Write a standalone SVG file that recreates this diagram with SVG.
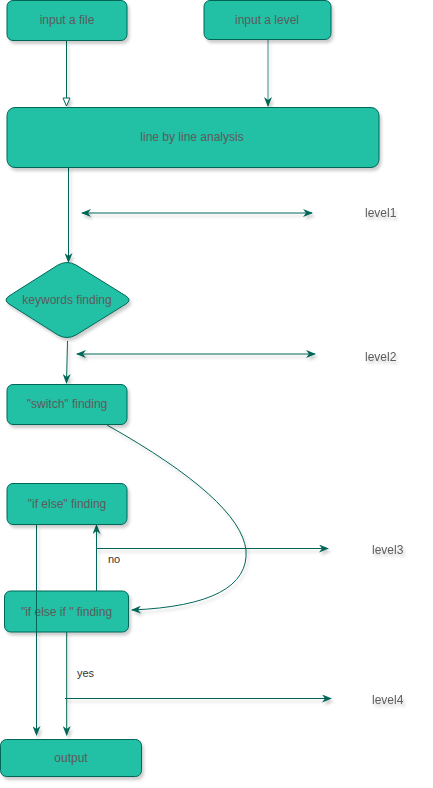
<svg xmlns="http://www.w3.org/2000/svg" width="433" height="788" viewBox="0 0 433 788">
<style>
.n{fill:#21C0A5;stroke:#006658;stroke-width:1;filter:url(#sh)}
.t{font-family:"Liberation Sans",Arial,sans-serif;font-size:12px;fill:#5C5C5C;text-anchor:middle;dominant-baseline:central}
.l{font-family:"Liberation Sans",Arial,sans-serif;font-size:12px;fill:#5C5C5C;dominant-baseline:central;filter:url(#sh2)}
.e{fill:none;stroke:#006658;stroke-width:1;filter:url(#sh2)}
.lab{font-family:"Liberation Sans",Arial,sans-serif;font-size:11px;fill:#333;dominant-baseline:central}
</style>
<defs>
<filter id="sh" x="-20%" y="-20%" width="140%" height="150%">
<feDropShadow dx="2" dy="3" stdDeviation="1.5" flood-color="#000" flood-opacity="0.2"/>
</filter>
<filter id="sh2" filterUnits="userSpaceOnUse" x="0" y="0" width="433" height="788">
<feDropShadow dx="2" dy="3" stdDeviation="1.5" flood-color="#000" flood-opacity="0.2"/>
</filter>
<marker id="a" viewBox="0 0 10 8" refX="9" refY="4" markerWidth="10" markerHeight="8" markerUnits="userSpaceOnUse" orient="auto-start-reverse">
<path d="M0,0 L10,4 L0,8 L3,4 z" fill="#006658"/>
</marker>
<marker id="h" viewBox="0 0 10 9" refX="9" refY="4.5" markerWidth="10" markerHeight="9" markerUnits="userSpaceOnUse" orient="auto">
<path d="M1,1 L9,4.5 L1,8 z" fill="#fff" stroke="#006658" stroke-width="1"/>
</marker>
</defs>
<g id="connectors">
<path class="e" d="M66.5,41 V106" marker-end="url(#h)"/>
<path class="e" d="M268,40 V106" stroke-opacity="0.75" stroke-width="1.6" marker-end="url(#a)"/>
<path class="e" d="M68.5,167 V262" marker-end="url(#a)"/>
<path class="e" d="M82,213 H312" marker-start="url(#a)" marker-end="url(#a)"/>
<path class="e" d="M67.5,341 L66.5,383" marker-end="url(#a)"/>
<path class="e" d="M77,354 H315" marker-start="url(#a)" marker-end="url(#a)"/>
<path class="e" d="M107,425 Q240,500 246,550 Q250,605 132,610" marker-end="url(#a)"/>
<path class="e" d="M96.5,591 V525" marker-end="url(#a)"/>
<path class="e" d="M96,548.5 H328" marker-end="url(#a)"/>
<path class="e" d="M36.5,525 V735" marker-end="url(#a)"/>
<path class="e" d="M66.7,632 V735" marker-end="url(#a)"/>
<path class="e" d="M65,698.5 H331" marker-end="url(#a)"/>
<text class="lab" x="108" y="559">no</text>
<text class="lab" x="77" y="673">yes</text>
</g>
<g id="input-file"><rect class="n" x="7" y="0.5" width="120" height="40" rx="6"/><text class="t" x="67" y="20">input a file</text></g>
<g id="input-level"><rect class="n" x="204" y="0.5" width="127" height="39" rx="6"/><text class="t" x="267" y="20">input a level</text></g>
<g id="line-analysis"><rect class="n" x="7" y="107.5" width="372" height="60" rx="8"/><text class="t" x="192" y="137">line by line analysis</text></g>
<g id="keywords"><path class="n" d="M58,265 Q67,260 76,265 L126,296 Q132,300 126,304 L76,335 Q67,340 58,335 L9,304 Q3,300 9,296 Z"/><text class="t" x="67" y="300">keywords finding</text></g>
<g id="switch"><rect class="n" x="7" y="384.5" width="120" height="40" rx="6"/><text class="t" x="67" y="404">"switch" finding</text></g>
<g id="ifelse"><rect class="n" x="7" y="483.5" width="120" height="41" rx="6"/><text class="t" x="67" y="504">"if else" finding</text></g>
<g id="ifelseif"><rect class="n" x="4.5" y="591" width="124" height="41" rx="6"/><text class="t" x="66.5" y="611.5">"if else if " finding</text></g>
<g id="output"><rect class="n" x="0.5" y="739.5" width="141" height="37" rx="6"/><text class="t" x="71" y="758">output</text></g>
<g id="level1"><text class="l" x="365" y="213">level1</text></g>
<g id="level2"><text class="l" x="365" y="357">level2</text></g>
<g id="level3"><text class="l" x="372" y="550">level3</text></g>
<g id="level4"><text class="l" x="372" y="700">level4</text></g>
<path d="M36.5,591 V632" stroke="#006658" stroke-width="1" fill="none"/>
</svg>
